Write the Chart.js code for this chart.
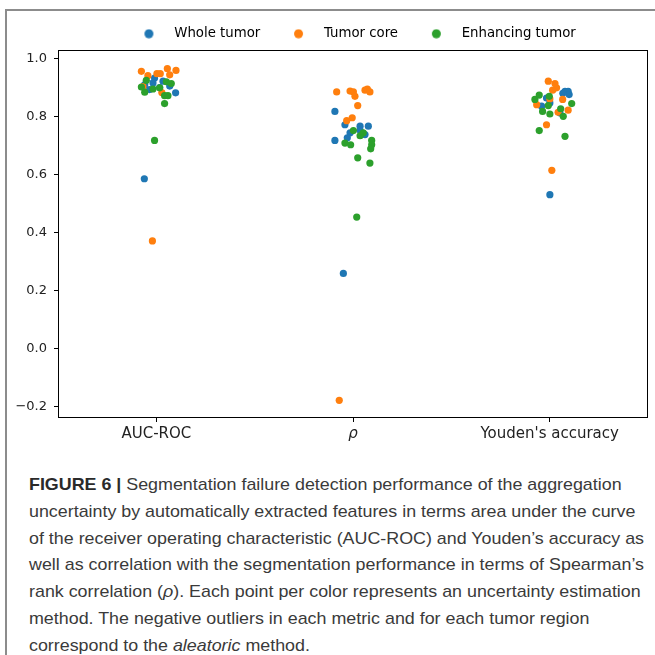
<!DOCTYPE html>
<html>
<head>
<meta charset="utf-8">
<script src="https://cdn.jsdelivr.net/npm/chart.js@4.4.0/dist/chart.umd.min.js"></script>
<style>
  html, body { margin: 0; padding: 0; background: #fff; }
  body { width: 655px; height: 655px; position: relative; overflow: hidden; }
  #frame { position: absolute; left: 5px; top: 9px; width: 700px; height: 700px;
           border-left: 2px solid #8c8c8c; border-top: 2px solid #8c8c8c; }
  #wrap { position: absolute; left: 0; top: 0; width: 655px; height: 455px; }
  #caption { position: absolute; left: 29px; top: 472px; font-family: "Liberation Sans", Arial, sans-serif;
             font-size: 17px; line-height: 26.8px; color: #3a3a3a; white-space: nowrap; transform-origin: 0 0; }
  #caption span { display: block; }
  #caption b { color: #2a2a2a; }
</style>
</head>
<body>
<div id="frame"></div>
<div id="wrap"><canvas id="chart"></canvas></div>
<div id="caption">
  <span><b>FIGURE 6 |</b> Segmentation failure detection performance of the aggregation</span>
  <span>uncertainty by automatically extracted features in terms area under the curve</span>
  <span>of the receiver operating characteristic (AUC-ROC) and Youden’s accuracy as</span>
  <span id="longest">well as correlation with the segmentation performance in terms of Spearman’s</span>
  <span>rank correlation (<i>ρ</i>). Each point per color represents an uncertainty estimation</span>
  <span>method. The negative outliers in each metric and for each tumor region</span>
  <span>correspond to the <i>aleatoric</i> method.</span>
</div>
<script>
// categories on the x axis and y tick labels
var categories = ['AUC-ROC', 'ρ', "Youden's accuracy"];
var yTicks = [-0.2, 0.0, 0.2, 0.4, 0.6, 0.8, 1.0];

var seriesNames = ['Whole tumor', 'Tumor core', 'Enhancing tumor'];
var seriesColors = ['#1f77b4', '#ff7f0e', '#2ca02c'];

// one value per uncertainty method, last one is the aleatoric outlier
// jitter = horizontal strip offset (in category units)
var wholeAuc       = [0.933, 0.916, 0.922, 0.905, 0.882, 0.910, 0.893, 0.900, 0.586];
var wholeAucJitter = [-0.009, -0.017, 0.034, 0.068, 0.098, -0.059, -0.034, 0.017, -0.061];
var wholeRho       = [0.818, 0.772, 0.767, 0.767, 0.753, 0.744, 0.727, 0.718, 0.738, 0.260];
var wholeRhoJitter = [-0.092, -0.041, 0.036, 0.078, 0.036, -0.015, -0.029, -0.092, 0.061, -0.049];
var wholeYouden       = [0.887, 0.887, 0.876, 0.864, 0.836, 0.813, 0.847, 0.880, 0.531];
var wholeYoudenJitter = [0.078, 0.094, 0.099, -0.016, -0.041, 0.052, 0.001, 0.067, 0.001];

var coreAuc       = [0.956, 0.941, 0.948, 0.948, 0.965, 0.944, 0.959, 0.903, 0.883, 0.372];
var coreAucJitter = [-0.076, -0.043, 0.003, 0.020, 0.056, 0.068, 0.100, -0.068, 0.028, -0.020];
var coreRho       = [0.885, 0.888, 0.885, 0.870, 0.891, 0.895, 0.885, 0.838, 0.796, 0.786, -0.177];
var coreRhoJitter = [-0.083, -0.015, 0.002, 0.010, 0.061, 0.073, 0.086, 0.024, -0.004, -0.032, -0.070];
var coreYouden       = [0.922, 0.914, 0.899, 0.891, 0.861, 0.841, 0.859, 0.822, 0.815, 0.772, 0.615];
var coreYoudenJitter = [-0.007, 0.027, 0.035, 0.015, 0.001, -0.066, 0.066, 0.094, 0.043, -0.016, 0.011];

var enhAuc       = [0.925, 0.884, 0.895, 0.899, 0.920, 0.914, 0.872, 0.872, 0.845, 0.902, 0.718];
var enhAucJitter = [-0.051, -0.059, -0.017, 0.017, 0.051, 0.076, 0.042, 0.059, 0.042, -0.076, -0.009];
var enhRho       = [0.752, 0.744, 0.734, 0.709, 0.703, 0.718, 0.703, 0.689, 0.658, 0.640, 0.454];
var enhRhoJitter = [0.002, 0.052, 0.036, -0.041, -0.012, 0.095, 0.095, 0.090, 0.024, 0.086, 0.019];
var enhYouden       = [0.874, 0.859, 0.870, 0.838, 0.818, 0.809, 0.827, 0.801, 0.845, 0.752, 0.732];
var enhYoudenJitter = [-0.053, -0.075, -0.002, -0.007, -0.036, 0.001, 0.056, 0.069, 0.112, -0.053, 0.078];

function strip(vals, jitter, cat) {
  return vals.map(function(v, i) { return {x: cat + jitter[i], y: v}; });
}

function series(idx, auc, aucJ, rho, rhoJ, you, youJ, order) {
  return {
    label: seriesNames[idx],
    data: strip(auc, aucJ, 0).concat(strip(rho, rhoJ, 1), strip(you, youJ, 2)),
    backgroundColor: seriesColors[idx],
    borderColor: seriesColors[idx],
    pointRadius: 3.6,
    pointHoverRadius: 3.6,
    pointBorderWidth: 0,
    order: order
  };
}

/* legend marker: dot drawn on a small canvas, width matches pointStyleWidth */
function dotImage(color) {
  var c = document.createElement('canvas');
  c.width = 37; c.height = 10;
  var g = c.getContext('2d');
  g.fillStyle = color;
  g.beginPath(); g.arc(18.5, 5, 4.5, 0, Math.PI * 2); g.fill();
  return c;
}

/* full box around the plot, like matplotlib spines */
var boxPlugin = {
  id: 'box',
  afterDraw: function(chart) {
    var a = chart.chartArea, c = chart.ctx;
    c.save();
    c.strokeStyle = '#000';
    c.lineWidth = 1;
    c.strokeRect(Math.round(a.left) + 0.5, Math.round(a.top) + 0.5,
                 Math.round(a.right - a.left) - 1, Math.round(a.bottom - a.top) - 1);
    c.restore();
  }
};

var ctx = document.getElementById('chart');
var stripChart = new Chart(ctx, {
  type: 'scatter',
  data: {
    datasets: [
      series(0, wholeAuc, wholeAucJitter, wholeRho, wholeRhoJitter, wholeYouden, wholeYoudenJitter, 2),
      series(1, coreAuc, coreAucJitter, coreRho, coreRhoJitter, coreYouden, coreYoudenJitter, 1),
      series(2, enhAuc, enhAucJitter, enhRho, enhRhoJitter, enhYouden, enhYoudenJitter, 0)
    ]
  },
  options: {
    responsive: true,
    maintainAspectRatio: false,
    animation: false,
    layout: { padding: { left: 0, right: 7, top: 7.5, bottom: 0 } },
    plugins: {
      tooltip: { enabled: false },
      legend: {
        position: 'top',
        align: 'center',
        fullSize: false,
        labels: {
          font: { family: 'DejaVu Sans', size: 13.3 },
          color: '#262626',
          usePointStyle: true,
          pointStyleWidth: 37.4,
          padding: 19.6,
          generateLabels: function(chart) {
            return chart.data.datasets.map(function(ds, i) {
              return {
                text: ds.label,
                fillStyle: ds.backgroundColor,
                strokeStyle: ds.backgroundColor,
                lineWidth: 0,
                pointStyle: dotImage(ds.backgroundColor),
                hidden: false,
                datasetIndex: i
              };
            });
          }
        }
      }
    },
    scales: {
      x: {
        type: 'linear',
        min: -0.5,
        max: 2.5,
        afterBuildTicks: function(scale) {
          scale.ticks = categories.map(function(c, i) { return {value: i}; });
        },
        afterFit: function(scale) { scale.height = 37; },
        border: { display: false },
        grid: { drawOnChartArea: false, drawTicks: true, tickLength: 4, color: '#000' },
        ticks: {
          padding: 3,
          color: '#222',
          maxRotation: 0,
          font: function(c) {
            return { family: 'DejaVu Sans', size: 15, style: (c.tick && c.tick.value === 1) ? 'italic' : 'normal' };
          },
          callback: function(v) { return categories[v]; }
        }
      },
      y: {
        min: -0.238,
        max: 1.028,
        afterBuildTicks: function(scale) {
          scale.ticks = yTicks.map(function(v) { return {value: v}; });
        },
        afterFit: function(scale) { scale.width = 58; },
        border: { display: false },
        grid: { drawOnChartArea: false, drawTicks: true, tickLength: 4, color: '#000' },
        ticks: {
          padding: 7,
          color: '#222',
          font: { family: 'DejaVu Sans', size: 13 },
          callback: function(v) { return v.toFixed(1).replace('-', '\u2212'); }
        }
      }
    }
  },
  plugins: [boxPlugin]
});

// squeeze the caption to the width of the printed figure caption
var cap = document.getElementById('caption');
var w = document.getElementById('longest').getBoundingClientRect().width;
cap.style.transform = 'scaleX(' + (615 / w) + ')';
</script>
</body>
</html>
